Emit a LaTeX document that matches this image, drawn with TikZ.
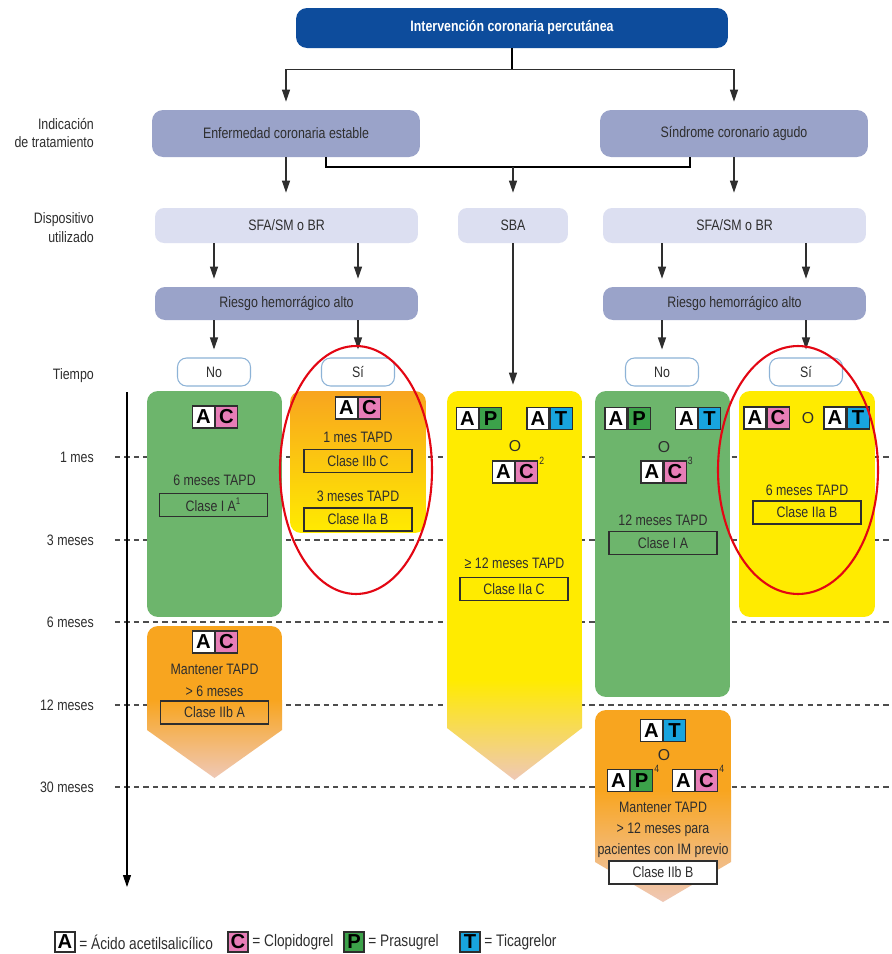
\documentclass[tikz,border=0pt]{standalone}
\usepackage{fontspec}
\setmainfont[FakeStretch=0.82]{Liberation Sans}
\newfontfamily\badgefont{Liberation Sans}
\usetikzlibrary{arrows.meta}

\definecolor{navy}{HTML}{0D4C9C}
\definecolor{slate}{HTML}{9AA3C9}
\definecolor{lilac}{HTML}{DCDFF1}
\definecolor{edge}{HTML}{8DB3D7}
\definecolor{leaf}{HTML}{6DB56C}
\definecolor{amber}{HTML}{F8A51F}
\definecolor{lemon}{HTML}{FFEB00}
\definecolor{peach}{HTML}{EFC8B6}
\definecolor{rose}{HTML}{E77DB7}
\definecolor{grass}{HTML}{3CA24A}
\definecolor{sky}{HTML}{18A4DE}
\definecolor{ink}{HTML}{2E2E2E}
\definecolor{ring}{HTML}{E30613}

% A + second drug, joined at #2
\newcommand{\drugpair}[4]{%
  \node[cell, anchor=east] (#1A) at (#2) {A};
  \node[cell, anchor=west, fill=#4] (#1#3) at (#2) {#3};}

\tikzset{
    every node/.style={text=ink, font=\fontsize{8.6}{10.8}\selectfont},
    head/.style={fill=navy, text=white, font=\bfseries\fontsize{8.6}{10}\selectfont, rounded corners=0.22cm, minimum width=8.64cm, minimum height=0.8cm},
    stage/.style={fill=slate, rounded corners=0.22cm, minimum width=5.36cm, minimum height=0.94cm},
    device/.style={fill=lilac, rounded corners=0.18cm, minimum height=0.7cm},
    risk/.style={fill=slate, rounded corners=0.2cm, minimum width=5.26cm, minimum height=0.66cm},
    answer/.style={draw=edge, fill=white, line width=0.6pt, rounded corners=0.18cm, minimum width=1.46cm, minimum height=0.56cm},
    period/.style={rounded corners=0.22cm, minimum width=2.7cm},
    clase/.style={draw=ink, line width=0.6pt, minimum width=2.16cm, minimum height=0.46cm, inner sep=0pt},
    cell/.style={draw=ink, fill=white, line width=0.6pt, minimum width=0.44cm, minimum height=0.44cm, inner sep=0pt, text=black, font=\badgefont\bfseries\fontsize{11.5}{11.5}\selectfont},
    orr/.style={inner sep=0pt, font=\badgefont\fontsize{9}{9}\selectfont},
    sup/.style={inner sep=0.5pt, anchor=west, font=\fontsize{6}{6}\selectfont},
    key/.style={anchor=west, inner sep=2pt, font=\fontsize{9.5}{11}\selectfont},
    side/.style={anchor=east, align=right},
    timeline/.style={dash pattern=on 3pt off 2.4pt, draw=ink!85, line width=0.6pt},
    flow/.style={->, draw=ink, line width=0.6pt, shorten >=1.6mm},
}

\begin{document}
\begin{tikzpicture}[x=0.02cm, y=-0.02cm, >={Triangle[length=2.4mm, width=1.6mm]}]
        \useasboundingbox[fill=white] (0,0) rectangle (892,954);

        % left column
        \node[side] (ind) at (100,133) {Indicación\\de tratamiento};
        \node[side] (dev) at (100,228) {Dispositivo\\utilizado};
        \node[side] (tiempo) at (100,376) {Tiempo};
        \node[side] (t1) at (100,457) {1 mes};
        \node[side] (t3) at (100,540) {3 meses};
        \node[side] (t6) at (100,622) {6 meses};
        \node[side] (t12) at (100,705) {12 meses};
        \node[side] (t30) at (100,787) {30 meses};
        \coordinate (edgeR) at (892,0);
        \draw[timeline] ([xshift=0.3cm]t1.east) -- (t1 -| edgeR);
        \draw[timeline] ([xshift=0.3cm]t3.east) -- (t3 -| edgeR);
        \draw[timeline] ([xshift=0.3cm]t6.east) -- (t6 -| edgeR);
        \draw[timeline] ([xshift=0.3cm]t12.east) -- (t12 -| edgeR);
        \draw[timeline] ([xshift=0.3cm]t30.east) -- (t30 -| edgeR);
        \coordinate (axisTop) at (127,392);
        \coordinate (axisEnd) at (127,887);
        \draw[->, line width=0.6pt] (axisTop) -- (axisEnd);

        % tree
        \node[head] (pci) at (512,28) {Intervención coronaria percutánea};
        \node[stage] (stable) at (286,133.5) {Enfermedad coronaria estable};
        \node[stage] (acute) at (734,133.5) {Síndrome coronario agudo};
        \node[device, minimum width=5.26cm] (devA) at (286.5,225.5) {SFA/SM o BR};
        \node[device, minimum width=2.2cm] (sba) at (513,225.5) {SBA};
        \node[device, minimum width=5.26cm] (devB) at (734.5,225.5) {SFA/SM o BR};
        \node[risk] (riskA) at (286.5,303.5) {Riesgo hemorrágico alto};
        \node[risk] (riskB) at (734.5,303.5) {Riesgo hemorrágico alto};
        \node[answer] (noA) at (214,372) {No};
        \node[answer] (siA) at (358,372) {Sí};
        \node[answer] (noB) at (662,372) {No};
        \node[answer] (siB) at (806,372) {Sí};

        \draw[line width=0.6pt] (pci.south) -- ++(0,21) coordinate (split);
        \draw[flow] (split) -| (stable);
        \draw[flow] (split) -| (acute);
        \draw[flow, shorten >=3mm] (stable.south) -- (stable.south |- devA.north);
        \draw[flow, shorten >=3mm] (acute.south) -- (acute.south |- devB.north);
        \coordinate (join) at (513,167);
        \draw[line width=0.6pt] ([xshift=0.8cm]stable.south) |- (join) -| ([xshift=-0.88cm]acute.south);
        \draw[flow, shorten >=3mm] (join) -- (sba);
        \draw[flow] (devA.south -| noA) -- (riskA.north -| noA);
        \draw[flow] (devA.south -| siA) -- (riskA.north -| siA);
        \draw[flow] (devB.south -| noB) -- (riskB.north -| noB);
        \draw[flow] (devB.south -| siB) -- (riskB.north -| siB);
        \draw[flow] (riskA.south -| noA) -- (noA);
        \draw[flow] (riskA.south -| siA) -- (siA);
        \draw[flow] (riskB.south -| noB) -- (noB);
        \draw[flow] (riskB.south -| siB) -- (siB);

        % periods
        \node[period, fill=leaf, minimum height=4.52cm] (g1) at (214.5,504) {};
        \node[period, fill=amber, minimum height=1.68cm] (o1) at (214.5,668) {};
        \shade[top color=amber, bottom color=peach] (147,700) -- (282,700) -- (282,730) -- (214.5,778) -- (147,730) -- cycle;
        \node[period, top color=amber, bottom color=lemon, minimum width=2.72cm, minimum height=2.84cm] (o2) at (358,462) {};
        \node[period, fill=lemon, minimum height=6.18cm] (y3) at (514.5,545.5) {};
        \shade[top color=lemon, bottom color=peach] (447,680) -- (582,680) -- (582,728) -- (514.5,780) -- (447,728) -- cycle;
        \node[period, fill=leaf, minimum height=6.12cm] (g4) at (662.5,544) {};
        \node[period, fill=amber, minimum width=2.72cm, minimum height=1.8cm] (o4) at (663,755) {};
        \shade[top color=amber, bottom color=peach] (595,790) -- (731,790) -- (731,862) -- (663,902) -- (595,862) -- cycle;
        \node[period, fill=lemon, minimum width=2.72cm, minimum height=4.52cm] (y5) at (807,504) {};
        \draw[flow, shorten >=1.2mm] (sba.south) -- (sba.south |- y3.north);

        % contents
        \drugpair{g1}{215,417}{C}{rose}
        \node (g1t) at (214.5,480) {6 meses TAPD};
        \node[clase] (g1c) at (213.5,505) {Clase I A\textsuperscript{\fontsize{5.5}{5.5}\selectfont 1}};

        \drugpair{o1}{215,642}{C}{rose}
        \node (o1t) at (214.5,669) {Mantener TAPD};
        \node (o1u) at (214.5,691) {> 6 meses};
        \node[clase] (o1c) at (214.5,712.5) {Clase IIb A};

        \drugpair{o2}{358,408}{C}{rose}
        \node (o2t) at (358,437) {1 mes TAPD};
        \node[clase] (o2c) at (358,461) {Clase IIb C};
        \node (o2u) at (358,496) {3 meses TAPD};
        \node[clase] (o2d) at (358,519.5) {Clase IIa B};

        \drugpair{y3p}{479,418.5}{P}{grass}
        \drugpair{y3t}{549.5,418.5}{T}{sky}
        \node[orr] (y3o) at (515,446) {O};
        \drugpair{y3c}{515,472}{C}{rose}
        \node[sup] (y3s) at (y3cC.north east) {2};
        \node (y3u) at (514.5,563) {≥ 12 meses TAPD};
        \node[clase] (y3cl) at (514,589) {Clase IIa C};

        \drugpair{g4p}{627.5,418.5}{P}{grass}
        \drugpair{g4t}{698,418.5}{T}{sky}
        \node[orr] (g4o) at (664,447) {O};
        \drugpair{g4c}{663.5,472}{C}{rose}
        \node[sup] (g4s) at (g4cC.north east) {3};
        \node (g4u) at (663,520) {12 meses TAPD};
        \node[clase] (g4cl) at (663,543) {Clase I A};

        \drugpair{o4t}{663,730.5}{T}{sky}
        \node[orr] (o4o) at (664,755) {O};
        \drugpair{o4p}{630,780.5}{P}{grass}
        \node[sup] (o4s) at (o4pP.north east) {4};
        \drugpair{o4c}{695,780.5}{C}{rose}
        \node[sup] (o4r) at (o4cC.north east) {4};
        \node (o4u) at (663,807) {Mantener TAPD};
        \node (o4v) at (663,830) {> 12 meses para};
        \node (o4w) at (663,851) {pacientes con IM previo};
        \node[clase, fill=white] (o4cl) at (663,872.5) {Clase IIb B};

        \drugpair{y5c}{766.5,418}{C}{rose}
        \node[orr] (y5o) at (808,418) {O};
        \drugpair{y5t}{846.5,418}{T}{sky}
        \node (y5u) at (807,490) {6 meses TAPD};
        \node[clase] (y5cl) at (807,512.5) {Clase IIa B};

        % highlights
        \draw[ring, line width=1.2pt] (356,470) ellipse [x radius=1.52cm, y radius=2.48cm];
        \draw[ring, line width=1.2pt] (798,470) ellipse [x radius=1.6cm, y radius=2.48cm];

        % legend
        \node[cell, minimum width=0.4cm, minimum height=0.4cm] (legA) at (65,942) {A};
        \node[key] (legAt) at (legA.east) {= Ácido acetilsalicílico};
        \node[cell, fill=rose, minimum width=0.4cm, minimum height=0.4cm] (legC) at (238,942) {C};
        \node[key] (legCt) at (legC.east) {= Clopidogrel};
        \node[cell, fill=grass, minimum width=0.4cm, minimum height=0.4cm] (legP) at (354,942) {P};
        \node[key] (legPt) at (legP.east) {= Prasugrel};
        \node[cell, fill=sky, minimum width=0.4cm, minimum height=0.4cm] (legT) at (470,942) {T};
        \node[key] (legTt) at (legT.east) {= Ticagrelor};
    \end{tikzpicture}
\end{document}
